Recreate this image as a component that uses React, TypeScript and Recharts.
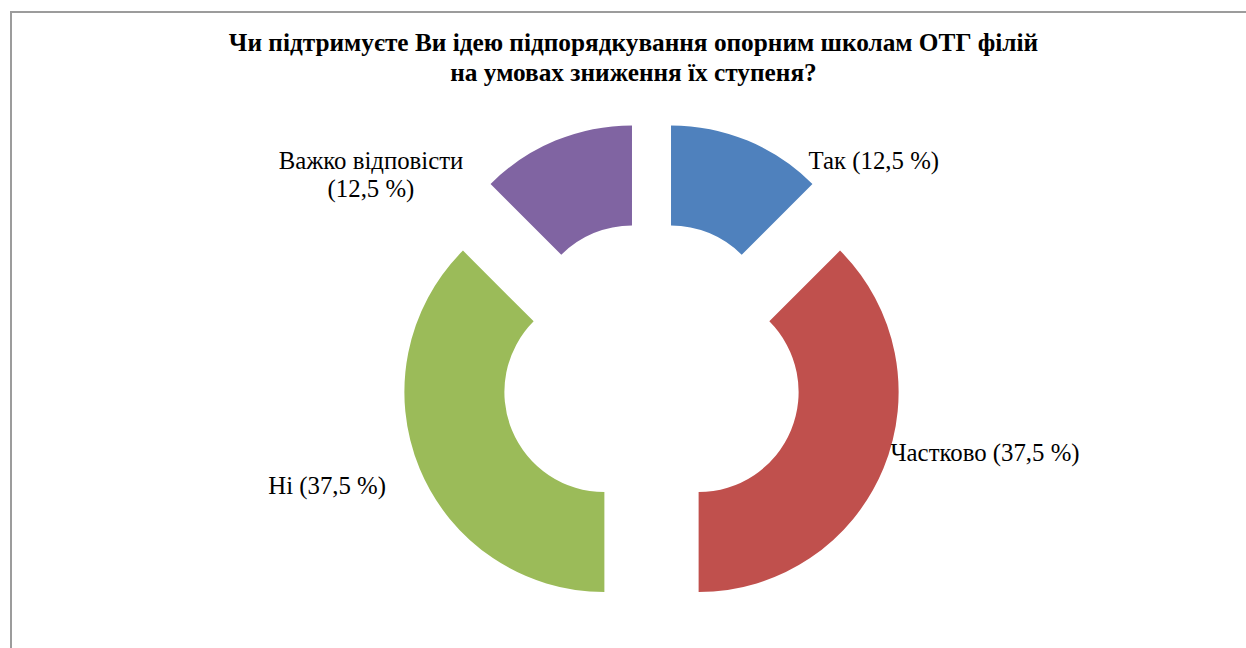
import React from 'react';
import { PieChart, Pie, Cell } from 'recharts';

const categories = ['Так', 'Частково', 'Ні', 'Важко відповісти'];
const shares = [12.5, 37.5, 37.5, 12.5];
const labelTexts = [
  ['Так (12,5 %)'],
  ['Частково (37,5 %)'],
  ['Ні (37,5 %)'],
  ['Важко відповісти', '(12,5 %)'],
];
const titleLines = [
  'Чи підтримуєте Ви ідею підпорядкування опорним школам ОТГ філій',
  'на умовах зниження їх ступеня?',
];
const colors = ['#4F81BD', '#C0504D', '#9BBB59', '#8064A2'];

// label placement relative to the pie centre (dx, dy of baseline, anchor)
const labelLayout = [
  { dx: 157, dy: -203.5, anchor: 'start' },
  { dx: 239, dy: 88.5, anchor: 'start' },
  { dx: -265.5, dy: 121.5, anchor: 'end' },
  { dx: -280.5, dy: -203.5, anchor: 'middle' },
];

const W = 1246;
const H = 648;
const CX = 651.5;
const CY = 372.5;
const OUTER = 200;
const INNER = 100;
const EXPLODE = 51;
const FONT = '"Liberation Serif", "Times New Roman", serif';

const data = categories.map((name, i) => ({ name, value: shares[i] }));
const total = shares.reduce((a, b) => a + b, 0);

const offsets = (() => {
  let cum = 0;
  return shares.map((v) => {
    const mid = 90 - (360 * (cum + v / 2)) / total;
    cum += v;
    const r = (mid * Math.PI) / 180;
    return { dx: EXPLODE * Math.cos(r), dy: -EXPLODE * Math.sin(r) };
  });
})();

const renderLabel = (props: any) => {
  const i = props.index;
  const lay = labelLayout[i];
  const lines = labelTexts[i];
  return (
    <text
      key={`lbl-${i}`}
      x={CX + lay.dx}
      y={CY + lay.dy}
      textAnchor={lay.anchor as any}
      fill="#000"
      stroke="none"
      style={{ fontFamily: FONT, fontSize: 24.8 }}
    >
      {lines.map((t, k) => (
        <tspan key={k} x={CX + lay.dx} dy={k === 0 ? 0 : 28}>
          {t}
        </tspan>
      ))}
    </text>
  );
};

export default function App() {
  return (
    <div style={{ position: 'absolute', left: 0, top: 0, width: W, height: H, background: '#fff', overflow: 'hidden' }}>
      <div
        style={{
          position: 'absolute',
          left: 10,
          top: 11,
          width: 1300,
          height: 700,
          border: '2px solid #9c9c9c',
          boxSizing: 'border-box',
        }}
      />
      <div
        style={{
          position: 'absolute',
          left: 0,
          width: 1267,
          top: 28,
          textAlign: 'center',
          fontFamily: FONT,
          fontWeight: 'bold',
          fontSize: 25.3,
          lineHeight: '29.5px',
          color: '#000',
        }}
      >
        {titleLines.map((t, k) => (
          <div key={k}>{t}</div>
        ))}
      </div>
      <div style={{ position: 'absolute', left: 0, top: 0 }}>
        <PieChart width={W} height={H} margin={{ top: 0, right: 0, bottom: 0, left: 0 }}>
          {offsets.map((o, i) => (
            <Pie
              key={i}
              data={data}
              dataKey="value"
              nameKey="name"
              cx={CX + o.dx}
              cy={CY + o.dy}
              innerRadius={INNER}
              outerRadius={OUTER}
              startAngle={90}
              endAngle={-270}
              stroke="none"
              isAnimationActive={false}
              label={i === 0 ? renderLabel : false}
              labelLine={false}
            >
              {data.map((_, j) => (
                <Cell key={j} fill={j === i ? colors[j] : 'transparent'} stroke="none" />
              ))}
            </Pie>
          ))}
        </PieChart>
      </div>
    </div>
  );
}
